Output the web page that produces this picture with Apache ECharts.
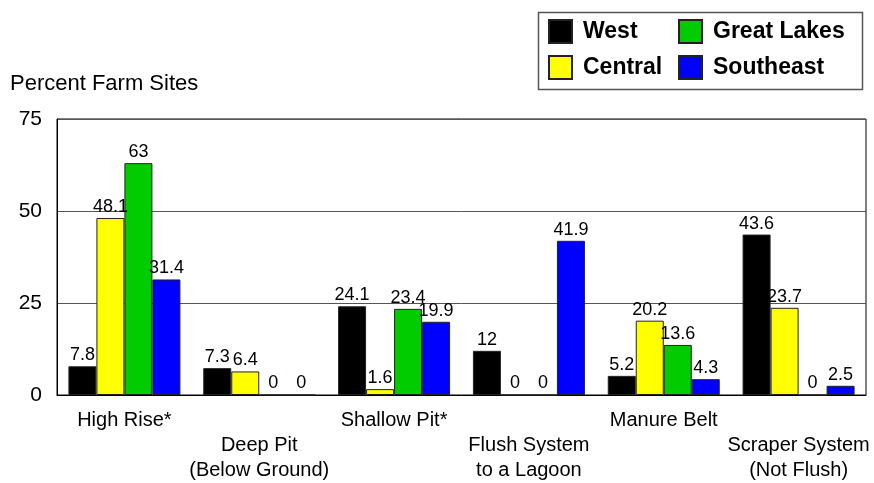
<!DOCTYPE html>
<html>
<head>
<meta charset="utf-8">
<script src="https://cdn.jsdelivr.net/npm/echarts@6/dist/echarts.min.js"></script>
<style>
html,body{margin:0;padding:0;background:#fff;}
#chart{width:874px;height:483px;}
</style>
</head>
<body>
<div id="chart"></div>
<script>
const categories = ['High Rise*', 'Deep Pit\n(Below Ground)', 'Shallow Pit*', 'Flush System\nto a Lagoon', 'Manure Belt', 'Scraper System\n(Not Flush)'];
const west = [7.8, 7.3, 24.1, 12, 5.2, 43.6];
const central = [48.1, 6.4, 1.6, 0, 20.2, 23.7];
const greatLakes = [63, 0, 23.4, 0, 13.6, 0];
const southeast = [31.4, 0, 19.9, 41.9, 4.3, 2.5];
const yTicks = [0, 25, 50, 75];

const FONT = "'Liberation Sans', Arial, sans-serif";
const chart = echarts.init(document.getElementById('chart'), null, {renderer: 'canvas'});

function bar(name, data, color) {
  return {
    name: name, type: 'bar', data: data, barWidth: 28, barGap: '0%',
    itemStyle: {color: color, borderColor: '#222', borderWidth: 1},
    label: {show: true, position: 'top', distance: 2, color: '#000', fontSize: 18, fontFamily: FONT},
    animation: false
  };
}

const legendText = {fontSize: 23, fontWeight: 'bold', color: '#000', fontFamily: FONT, padding: [0, 0, 0, 6]};

chart.setOption({
  animation: false,
  textStyle: {fontFamily: FONT},
  title: {text: 'Percent Farm Sites', left: 10, top: 73, padding: 0,
    textStyle: {fontSize: 22, fontWeight: 'normal', color: '#000', fontFamily: FONT}},
  grid: {left: 57, right: 8, top: 119, bottom: 83, show: true, borderColor: '#000', borderWidth: 1, backgroundColor: 'transparent'},
  legend: [
    {data: ['West', 'Central'], orient: 'vertical', left: 548, top: 19, padding: 0,
      itemWidth: 23, itemHeight: 23, itemGap: 11, icon: 'rect', textStyle: legendText},
    {data: ['Great Lakes', 'Southeast'], orient: 'vertical', left: 678, top: 19, padding: 0,
      itemWidth: 23, itemHeight: 23, itemGap: 11, icon: 'rect', textStyle: legendText}
  ],
  graphic: [{type: 'rect', left: 536, top: 10, shape: {width: 324, height: 77},
    style: {fill: 'none', stroke: '#555', lineWidth: 1.5}, silent: true}],
  xAxis: {
    type: 'category', data: categories,
    axisTick: {show: false},
    axisLine: {show: true, lineStyle: {color: '#000', width: 1}},
    axisLabel: {interval: 0, fontSize: 20, color: '#000', margin: 13, lineHeight: 25, fontFamily: FONT,
      formatter: function (v, i) { return i % 2 ? '\n' + v : v; }}
  },
  yAxis: {
    type: 'value', min: yTicks[0], max: yTicks[yTicks.length - 1], interval: 25,
    axisLine: {show: true, lineStyle: {color: '#000', width: 1}},
    axisTick: {show: false},
    axisLabel: {fontSize: 21, color: '#000', margin: 15, fontFamily: FONT},
    splitLine: {show: true, lineStyle: {color: '#555', width: 1}}
  },
  series: [
    bar('West', west, '#000000'),
    bar('Central', central, '#ffff00'),
    bar('Great Lakes', greatLakes, '#00cc00'),
    bar('Southeast', southeast, '#0000ff')
  ]
});
</script>
</body>
</html>
